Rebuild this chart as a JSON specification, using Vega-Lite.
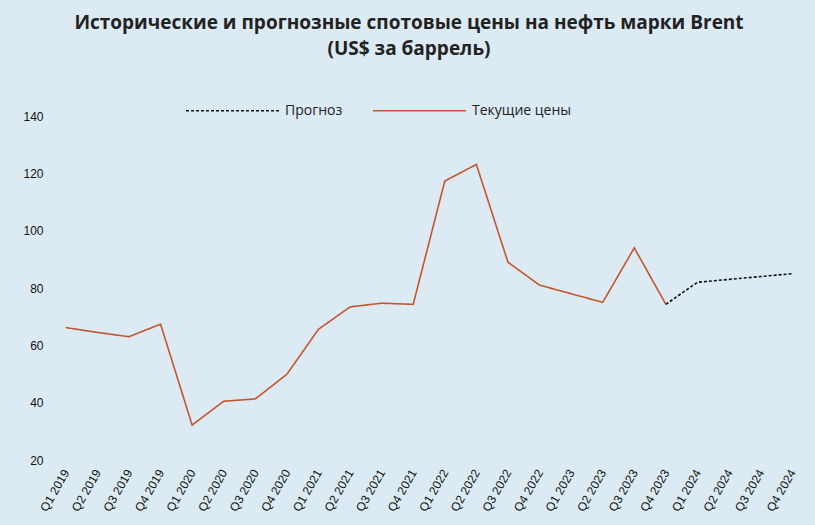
{
  "$schema": "https://vega.github.io/schema/vega-lite/v6.json",
  "autosize": {"type": "none"},
  "width": 758,
  "height": 344,
  "padding": {"left": 50, "top": 116, "right": 7, "bottom": 65},
  "background": "#dbeaf3",
  "title": {
    "text": ["Исторические и прогнозные спотовые цены на нефть марки Brent", "(US$ за баррель)"],
    "font": "Open Sans",
    "fontSize": 19,
    "fontWeight": "bold",
    "color": "#222222",
    "anchor": "middle",
    "frame": "group",
    "lineHeight": 26,
    "offset": 4,
    "dx": -20
  },
  "config": {
    "view": {"stroke": null},
    "axis": {"labelFont": "Liberation Sans", "labelFontSize": 12, "labelColor": "#111111", "domain": false, "ticks": false, "grid": false, "title": null}
  },
  "data": {
    "values": [
      {"quarter": "Q1 2019", "value": 66.2, "series": "Текущие цены"},
      {"quarter": "Q2 2019", "value": 64.5, "series": "Текущие цены"},
      {"quarter": "Q3 2019", "value": 63.0, "series": "Текущие цены"},
      {"quarter": "Q4 2019", "value": 67.4, "series": "Текущие цены"},
      {"quarter": "Q1 2020", "value": 32.2, "series": "Текущие цены"},
      {"quarter": "Q2 2020", "value": 40.5, "series": "Текущие цены"},
      {"quarter": "Q3 2020", "value": 41.3, "series": "Текущие цены"},
      {"quarter": "Q4 2020", "value": 49.9, "series": "Текущие цены"},
      {"quarter": "Q1 2021", "value": 65.6, "series": "Текущие цены"},
      {"quarter": "Q2 2021", "value": 73.4, "series": "Текущие цены"},
      {"quarter": "Q3 2021", "value": 74.7, "series": "Текущие цены"},
      {"quarter": "Q4 2021", "value": 74.3, "series": "Текущие цены"},
      {"quarter": "Q1 2022", "value": 117.3, "series": "Текущие цены"},
      {"quarter": "Q2 2022", "value": 123.1, "series": "Текущие цены"},
      {"quarter": "Q3 2022", "value": 89.0, "series": "Текущие цены"},
      {"quarter": "Q4 2022", "value": 81.0, "series": "Текущие цены"},
      {"quarter": "Q1 2023", "value": 78.0, "series": "Текущие цены"},
      {"quarter": "Q2 2023", "value": 75.0, "series": "Текущие цены"},
      {"quarter": "Q3 2023", "value": 94.0, "series": "Текущие цены"},
      {"quarter": "Q4 2023", "value": 74.3, "series": "Текущие цены"},
      {"quarter": "Q4 2023", "value": 74.3, "series": "Прогноз"},
      {"quarter": "Q1 2024", "value": 82.0, "series": "Прогноз"},
      {"quarter": "Q2 2024", "value": 83.0, "series": "Прогноз"},
      {"quarter": "Q3 2024", "value": 84.0, "series": "Прогноз"},
      {"quarter": "Q4 2024", "value": 85.0, "series": "Прогноз"}
    ]
  },
  "mark": {"type": "line", "strokeWidth": 1.6},
  "encoding": {
    "x": {
      "field": "quarter", "type": "ordinal", "sort": null,
      "scale": {"type": "point", "padding": 0.5},
      "axis": {"labelAngle": -60, "labelPadding": 10}
    },
    "y": {
      "field": "value", "type": "quantitative",
      "scale": {"domain": [20, 140], "nice": false, "zero": false},
      "axis": {"values": [20, 40, 60, 80, 100, 120, 140], "labelPadding": 7}
    },
    "color": {
      "field": "series", "type": "nominal",
      "scale": {"domain": ["Прогноз", "Текущие цены"], "range": ["#111111", "#c4562e"]},
      "legend": {
        "title": null, "orient": "none", "direction": "horizontal",
        "legendX": 135, "legendY": -53,
        "symbolType": "stroke", "symbolSize": 8649, "symbolStrokeWidth": 1.3,
        "labelFont": "Open Sans", "labelFontSize": 14, "labelColor": "#222222",
        "labelOffset": 5, "columnPadding": 27
      }
    },
    "strokeDash": {
      "field": "series", "type": "nominal",
      "scale": {"domain": ["Прогноз", "Текущие цены"], "range": [[3, 2], [1, 0]]},
      "legend": {
        "title": null, "orient": "none", "direction": "horizontal",
        "legendX": 135, "legendY": -53,
        "symbolType": "stroke", "symbolSize": 8649, "symbolStrokeWidth": 1.3,
        "labelFont": "Open Sans", "labelFontSize": 14, "labelColor": "#222222",
        "labelOffset": 5, "columnPadding": 27
      }
    }
  }
}
